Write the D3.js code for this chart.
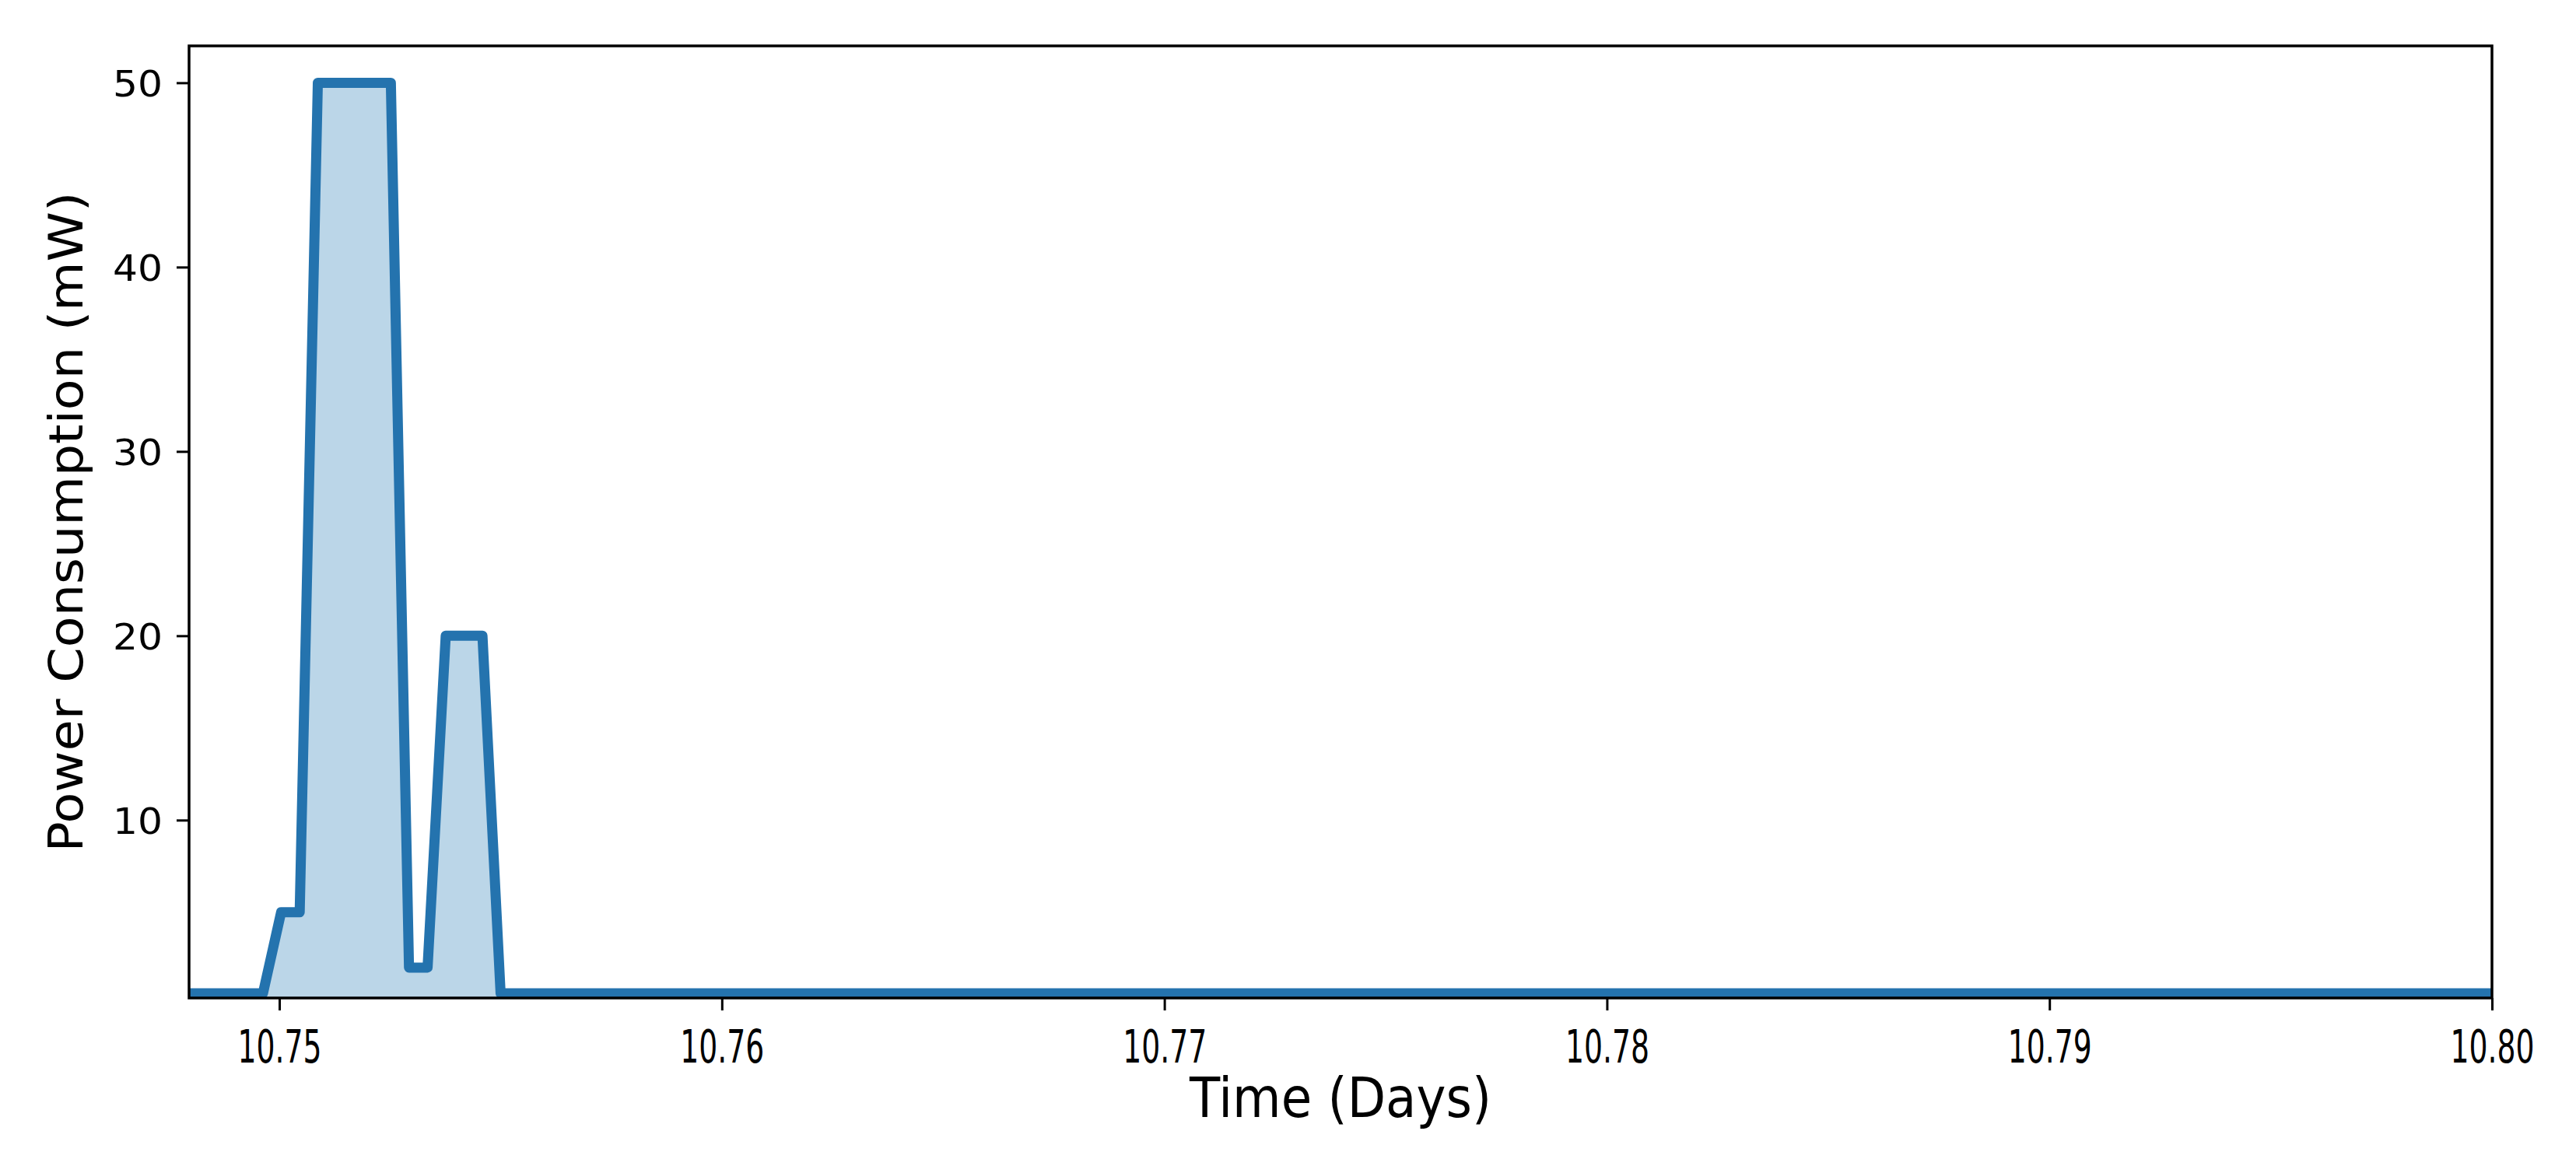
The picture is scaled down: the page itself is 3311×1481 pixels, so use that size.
<!DOCTYPE html>
<html>
<head>
<meta charset="utf-8">
<script src="https://cdn.jsdelivr.net/npm/d3@7"></script>
<style>
  html, body { margin: 0; padding: 0; background: #ffffff; }
  svg { display: block; }
  text { font-family: "DejaVu Sans", sans-serif; fill: #000; }
</style>
</head>
<body>
<script>
// ---- data ----
const timeDays = [10.7479, 10.74963, 10.75004, 10.75046, 10.75087, 10.75128, 10.75169, 10.75210, 10.75252, 10.75293, 10.75335, 10.75376, 10.75418, 10.75459, 10.75500, 10.8001];
const powerMW  = [0.6,     0.6,      5,        5,        50,       50,       50,       50,       50,       2,        2,        20,       20,       20,       0.6,      0.6];
const xTicks = [10.75, 10.76, 10.77, 10.78, 10.79, 10.80];
const yTicks = [10, 20, 30, 40, 50];
const xDomain = [10.74796, 10.80];
const yDomain = [0.35, 52];
const xLabel = "Time (Days)";
const yLabel = "Power Consumption (mW)";

// ---- layout ----
const W = 3311, H = 1481;
const m = { left: 243, top: 59, right: 3311 - 3203, bottom: 1481 - 1283 };
const pw = W - m.left - m.right, ph = H - m.top - m.bottom;

const svg = d3.select("body").append("svg").attr("width", W).attr("height", H);
svg.append("rect").attr("width", W).attr("height", H).attr("fill", "#fff");

const x = d3.scaleLinear().domain(xDomain).range([0, pw]);
const y = d3.scaleLinear().domain(yDomain).range([ph, 0]);

const g = svg.append("g").attr("transform", `translate(${m.left},${m.top})`);
g.append("clipPath").attr("id", "clip").append("rect").attr("width", pw).attr("height", ph);

const data = timeDays.map((t, i) => ({ t, v: powerMW[i] }));

const plot = g.append("g").attr("clip-path", "url(#clip)");
plot.append("path").datum(data)
  .attr("d", d3.area().x(d => x(d.t)).y0(y(0)).y1(d => y(d.v)))
  .attr("fill", "#1f77b4").attr("fill-opacity", 0.3);
plot.append("path").datum(data)
  .attr("d", d3.line().x(d => x(d.t)).y(d => y(d.v)))
  .attr("fill", "none").attr("stroke", "#2473ae").attr("stroke-width", 13)
  .attr("stroke-linejoin", "round").attr("stroke-linecap", "butt");

// axes
const xAxis = g.append("g").attr("transform", `translate(0,${ph})`)
  .call(d3.axisBottom(x).tickValues(xTicks).tickFormat(d3.format(".2f")).tickSize(16).tickSizeOuter(0));
const yAxis = g.append("g")
  .call(d3.axisLeft(y).tickValues(yTicks).tickFormat(d3.format("d")).tickSize(16).tickSizeOuter(0));
[xAxis, yAxis].forEach(a => {
  a.select(".domain").remove();
  a.selectAll(".tick line").attr("stroke", "#000").attr("stroke-width", 3);
});
xAxis.selectAll(".tick text")
  .attr("y", 1366 - 1283).attr("dy", null)
  .attr("font-size", 59).attr("font-family", "DejaVu Sans")
  .attr("textLength", 108).attr("lengthAdjust", "spacingAndGlyphs");
yAxis.selectAll(".tick text")
  .attr("x", 209 - 243).attr("dy", "0.36em")
  .attr("font-size", 47).attr("font-family", "DejaVu Sans")
  .attr("textLength", 64).attr("lengthAdjust", "spacingAndGlyphs");

// frame
g.append("rect").attr("width", pw).attr("height", ph)
  .attr("fill", "none").attr("stroke", "#000").attr("stroke-width", 3.5);

// labels
svg.append("text").attr("x", m.left + pw / 2).attr("y", 1436)
  .attr("text-anchor", "middle").attr("font-size", 72)
  .attr("textLength", 388).attr("lengthAdjust", "spacingAndGlyphs")
  .text(xLabel);
svg.append("text").attr("transform", `translate(106,${m.top + ph / 2}) rotate(-90)`)
  .attr("text-anchor", "middle").attr("font-size", 61)
  .attr("textLength", 849).attr("lengthAdjust", "spacingAndGlyphs")
  .text(yLabel);
</script>
</body>
</html>
